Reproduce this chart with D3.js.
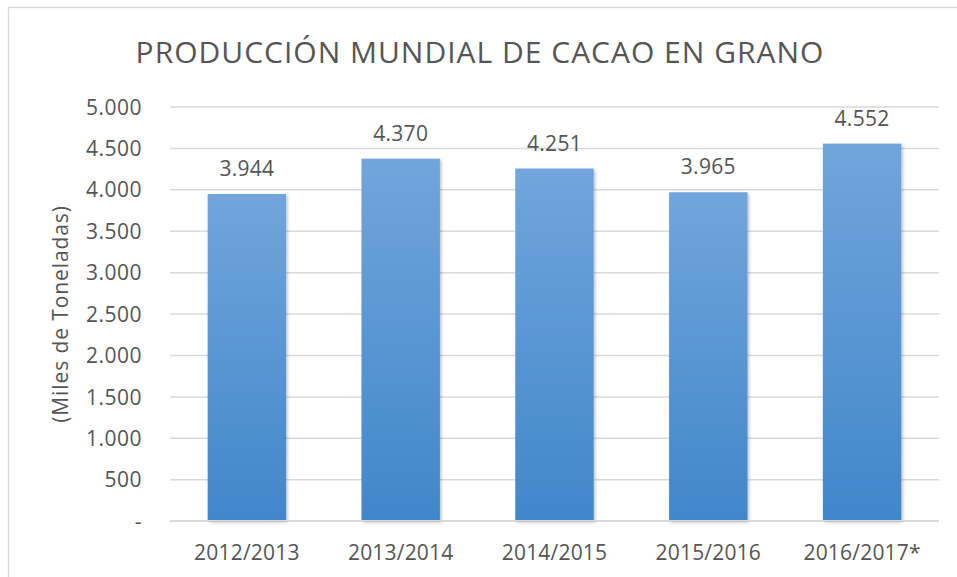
<!DOCTYPE html>
<html>
<head>
<meta charset="utf-8">
<script src="https://cdn.jsdelivr.net/npm/d3@7"></script>
<style>
  body { margin: 0; background: #fff; }
  text { font-family: "Open Sans", sans-serif; fill: #555555; }
</style>
</head>
<body>
<div id="content"></div>
<script>
var categories = ["2012/2013", "2013/2014", "2014/2015", "2015/2016", "2016/2017*"];
var values = [3944, 4370, 4251, 3965, 4552];
var tickValues = [0, 500, 1000, 1500, 2000, 2500, 3000, 3500, 4000, 4500, 5000];

var width = 957, height = 577;
var margin = {top: 106.5, right: 18, bottom: 56.3, left: 170};

var fmt = function(v) {
  if (v === 0) return "-";
  return d3.format(",")(v).replace(/,/g, ".");
};

var svg = d3.select("#content").append("svg")
  .attr("width", width)
  .attr("height", height);

var defs = svg.append("defs");
var grad = defs.append("linearGradient")
  .attr("id", "barGrad")
  .attr("x1", 0).attr("y1", 0).attr("x2", 0).attr("y2", 1);
grad.append("stop").attr("offset", "0%").attr("stop-color", "#71a5dc");
grad.append("stop").attr("offset", "100%").attr("stop-color", "#4087ca");

var shadow = defs.append("filter").attr("id", "shadow")
  .attr("x", "-10%").attr("y", "-10%").attr("width", "130%").attr("height", "130%");
shadow.append("feDropShadow")
  .attr("dx", 1.5).attr("dy", 1.5).attr("stdDeviation", 1.5)
  .attr("flood-color", "#000").attr("flood-opacity", 0.25);

// chart border
svg.append("rect")
  .attr("x", 8.5).attr("y", 7.5)
  .attr("width", width).attr("height", height)
  .attr("fill", "none")
  .attr("stroke", "#d9d9d9")
  .attr("stroke-width", 1.3);

var x_scale = d3.scaleBand()
  .domain(categories)
  .range([margin.left, width - margin.right])
  .paddingInner(0.49)
  .paddingOuter(0.245);

var y_scale = d3.scaleLinear()
  .domain([0, 5000])
  .range([height - margin.bottom, margin.top]);

// gridlines
var grid = svg.append("g")
  .attr("transform", "translate(" + margin.left + ",0)")
  .call(d3.axisLeft(y_scale).tickValues(tickValues).tickSize(-(width - margin.right - margin.left)).tickFormat(""));
grid.select(".domain").remove();
grid.selectAll("line").attr("stroke", "#d9d9d9").attr("stroke-width", 1.5);

// y axis labels
var yAxis = svg.append("g")
  .attr("transform", "translate(" + (margin.left - 28) + ",0)")
  .call(d3.axisLeft(y_scale).tickValues(tickValues).tickSize(0).tickPadding(0).tickFormat(fmt));
yAxis.select(".domain").remove();
yAxis.selectAll("text")
  .style("font-size", "21px")
  .style("letter-spacing", "0.5px")
  .attr("dy", "0.36em");

// bars
svg.append("g").selectAll("rect")
  .data(values)
  .enter()
  .append("rect")
  .attr("x", function(d, i) { return x_scale(categories[i]); })
  .attr("y", function(d) { return y_scale(d); })
  .attr("width", x_scale.bandwidth())
  .attr("height", function(d) { return y_scale(0) - y_scale(d); })
  .attr("fill", "url(#barGrad)")
  .attr("filter", "url(#shadow)");

// baseline over bars
svg.append("line")
  .attr("x1", margin.left).attr("x2", width - margin.right)
  .attr("y1", y_scale(0)).attr("y2", y_scale(0))
  .attr("stroke", "#d9d9d9").attr("stroke-width", 1.5);

// data labels
svg.append("g").selectAll("text")
  .data(values)
  .enter()
  .append("text")
  .attr("x", function(d, i) { return x_scale(categories[i]) + x_scale.bandwidth() / 2; })
  .attr("y", function(d) { return y_scale(d) - 18; })
  .attr("text-anchor", "middle")
  .style("font-size", "21px")
  .style("letter-spacing", "0.3px")
  .text(fmt);

// x axis labels
var xAxis = svg.append("g")
  .attr("transform", "translate(0," + y_scale(0) + ")")
  .call(d3.axisBottom(x_scale).tickSize(0).tickPadding(0));
xAxis.select(".domain").remove();
xAxis.selectAll("text")
  .attr("dy", 0)
  .attr("y", 39.5)
  .style("font-size", "21px")
  .style("letter-spacing", "0.2px");

// y axis title
svg.append("text")
  .attr("transform", "translate(68," + 314 + ") rotate(-90)")
  .attr("text-anchor", "middle")
  .style("font-size", "21px")
  .style("letter-spacing", "0.9px")
  .text("(Miles de Toneladas)");

// chart title
svg.append("text")
  .attr("x", 480)
  .attr("y", 63)
  .attr("text-anchor", "middle")
  .style("font-size", "30px")
  .style("letter-spacing", "1px")
  .text("PRODUCCIÓN MUNDIAL DE CACAO EN GRANO");
</script>
</body>
</html>
